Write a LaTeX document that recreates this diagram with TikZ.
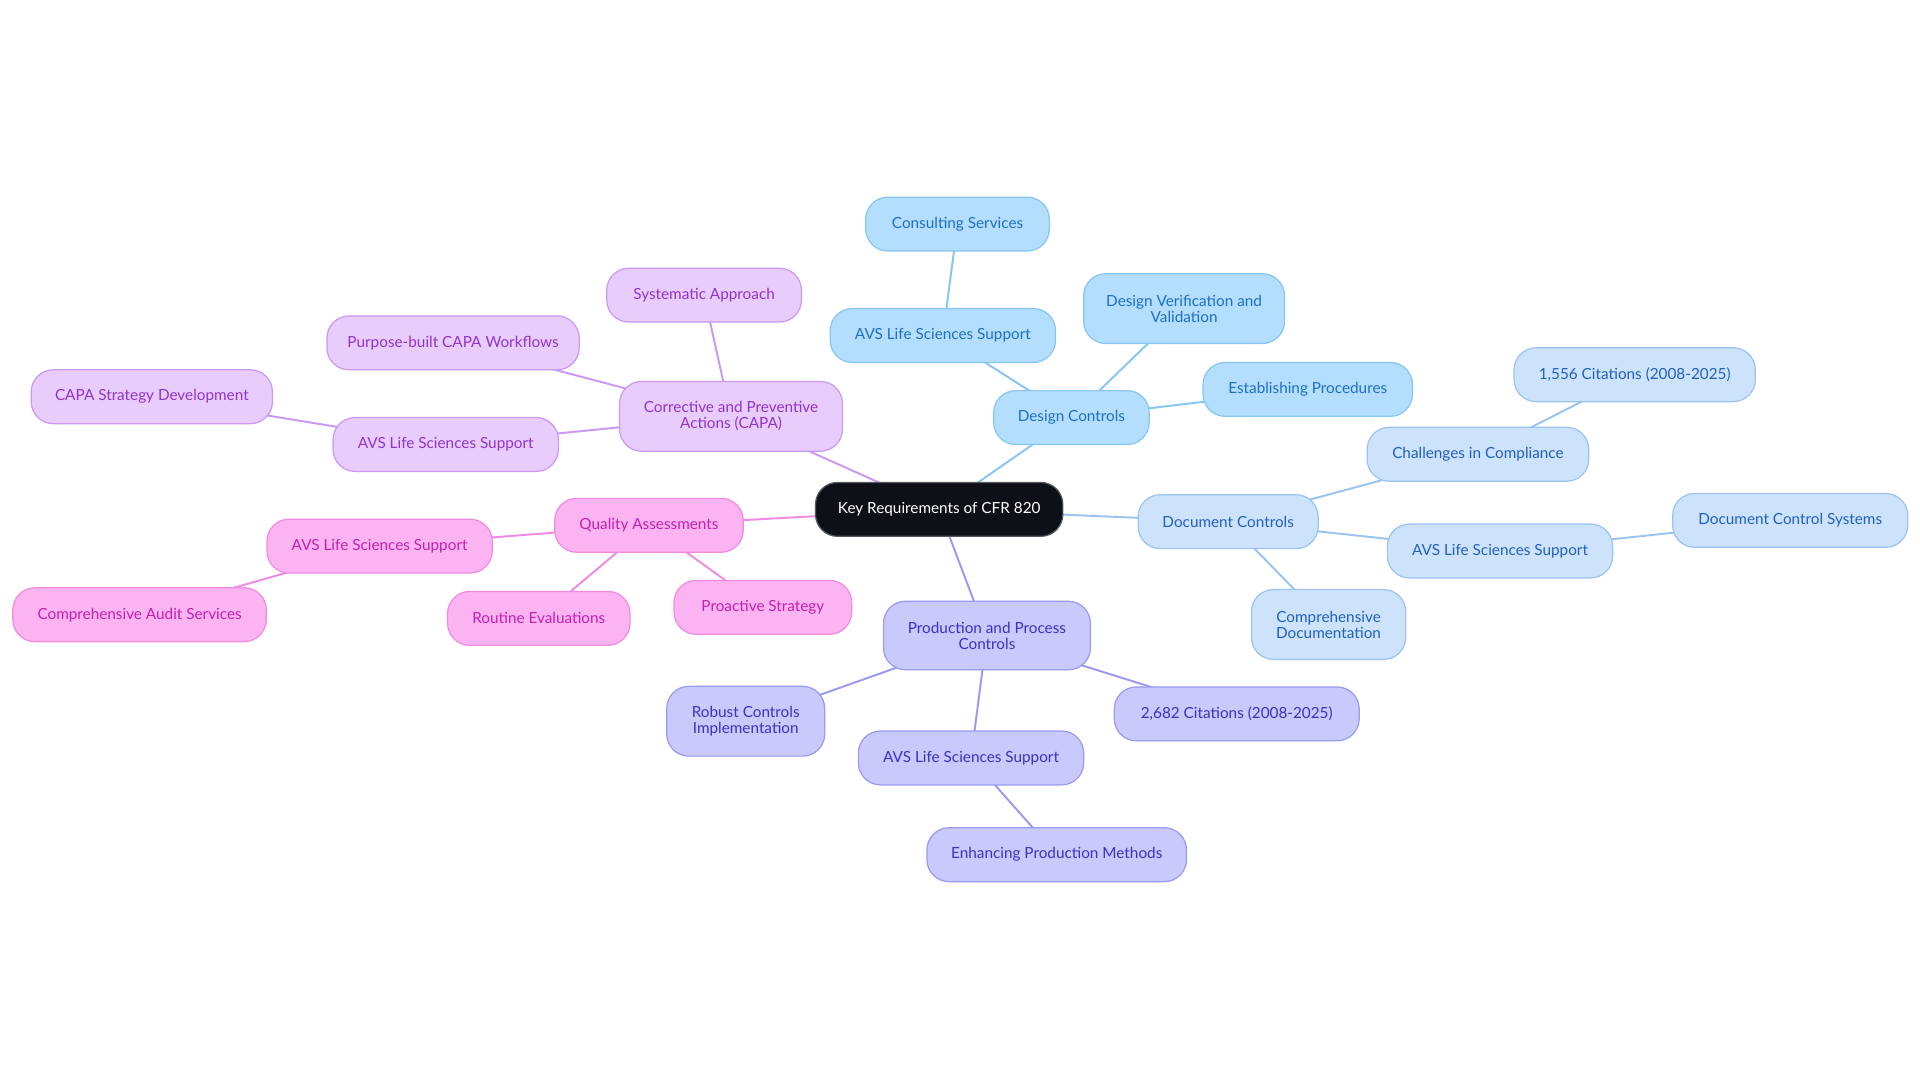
\documentclass[tikz,border=0pt]{standalone}
\usepackage{fontspec}
\setmainfont{Lato}
\usetikzlibrary{backgrounds}
\definecolor{rootF}{HTML}{0D1117}
\definecolor{rootD}{HTML}{555A60}
\definecolor{blueF}{HTML}{B3DEFD}
\definecolor{blueD}{HTML}{88C6F2}
\definecolor{blueT}{HTML}{1F6FC4}
\definecolor{lblueF}{HTML}{CDE3FB}
\definecolor{lblueD}{HTML}{9BC3F2}
\definecolor{lblueT}{HTML}{2260C0}
\definecolor{lavF}{HTML}{C9C9FC}
\definecolor{lavD}{HTML}{9A9AF0}
\definecolor{lavT}{HTML}{3A32C4}
\definecolor{purF}{HTML}{E7CCFC}
\definecolor{purD}{HTML}{CC99F2}
\definecolor{purT}{HTML}{9233CC}
\definecolor{pinkF}{HTML}{FCB3F2}
\definecolor{pinkD}{HTML}{F08CE0}
\definecolor{pinkT}{HTML}{C51FB0}
\tikzset{
  bx/.style 2 args={minimum width=#1pt, minimum height=#2pt},
  base/.style={rounded corners=18pt, inner sep=0pt, align=center, line width=1pt,
    font=\fontsize{12.5}{13}\selectfont},
  rootbox/.style={base, fill=rootF, draw=rootD, text=white},
  bluebox/.style={base, fill=blueF, draw=blueD, text=blueT},
  lbluebox/.style={base, fill=lblueF, draw=lblueD, text=lblueT},
  lavbox/.style={base, fill=lavF, draw=lavD, text=lavT},
  purbox/.style={base, fill=purF, draw=purD, text=purT},
  pinkbox/.style={base, fill=pinkF, draw=pinkD, text=pinkT},
  blueln/.style={draw=blueD, line width=1.6pt},
  lblueln/.style={draw=lblueD, line width=1.6pt},
  lavln/.style={draw=lavD, line width=1.6pt},
  purln/.style={draw=purD, line width=1.6pt},
  pinkln/.style={draw=pinkD, line width=1.6pt},
}
\begin{document}
\begin{tikzpicture}[x=1pt,y=-1pt]
\useasboundingbox (0,0) rectangle (1568,884);
% nodes
\node[rootbox, bx={202}{44}] (root) at (767,416) {Key Requirements of CFR 820};
% design controls
\node[bluebox, bx={127}{44}] (dc) at (875,341) {Design Controls};
\node[bluebox, bx={150}{44}] (cs) at (782,183) {Consulting Services};
\node[bluebox, bx={184}{44}] (dcavs) at (770,274) {AVS Life Sciences Support};
\node[bluebox, bx={164}{57}] (dvv) at (967,252) {Design Verification and\\Validation};
\node[bluebox, bx={171}{44}] (ep) at (1068,318) {Establishing Procedures};
% document controls
\node[lbluebox, bx={147}{44}] (doc) at (1003,426) {Document Controls};
\node[lbluebox, bx={181}{44}] (cic) at (1207,371) {Challenges in Compliance};
\node[lbluebox, bx={197}{44}] (c1556) at (1335,306) {1,556 Citations (2008-2025)};
\node[lbluebox, bx={184}{44}] (docavs) at (1225,450) {AVS Life Sciences Support};
\node[lbluebox, bx={192}{44}] (dcs) at (1462,425) {Document Control Systems};
\node[lbluebox, bx={126}{57}] (cd) at (1085,510) {Comprehensive\\Documentation};
% production
\node[lavbox, bx={169}{56}] (ppc) at (806,519) {Production and Process\\Controls};
\node[lavbox, bx={129}{57}] (rci) at (609,589) {Robust Controls\\Implementation};
\node[lavbox, bx={200}{44}] (c2682) at (1010,583) {2,682 Citations (2008-2025)};
\node[lavbox, bx={184}{44}] (pavs) at (793,619) {AVS Life Sciences Support};
\node[lavbox, bx={212}{44}] (epm) at (863,698) {Enhancing Production Methods};
% capa
\node[purbox, bx={182}{57}] (capa) at (597,340) {Corrective and Preventive\\Actions (CAPA)};
\node[purbox, bx={159}{44}] (sa) at (575,241) {Systematic Approach};
\node[purbox, bx={206}{44}] (pcw) at (370,280) {Purpose-built CAPA Workflows};
\node[purbox, bx={184}{44}] (cavs) at (364,363) {AVS Life Sciences Support};
\node[purbox, bx={197}{44}] (csd) at (124,324) {CAPA Strategy Development};
% quality
\node[pinkbox, bx={154}{44}] (qa) at (530,429) {Quality Assessments};
\node[pinkbox, bx={184}{44}] (qavs) at (310,446) {AVS Life Sciences Support};
\node[pinkbox, bx={207}{44}] (cas) at (114,502) {Comprehensive Audit Services};
\node[pinkbox, bx={149}{44}] (re) at (440,505) {Routine Evaluations};
\node[pinkbox, bx={145}{44}] (ps) at (623,496) {Proactive Strategy};
% edges (behind the boxes, centre to centre)
\begin{pgfonlayer}{background}
\path[blueln] (root.center) -- (dc.center) (dc.center) -- (dcavs.center) (dcavs.center) -- (cs.center) (dc.center) -- (dvv.center) (dc.center) -- (ep.center);
\path[lblueln] (root.center) -- (doc.center) (doc.center) -- (cic.center) (cic.center) -- (c1556.center) (doc.center) -- (docavs.center) (docavs.center) -- (dcs.center) (doc.center) -- (cd.center);
\path[lavln] (root.center) -- (ppc.center) (ppc.center) -- (rci.center) (ppc.center) -- (c2682.center) (ppc.center) -- (pavs.center) (pavs.center) -- (epm.center);
\path[purln] (root.center) -- (capa.center) (capa.center) -- (sa.center) (capa.center) -- (pcw.center) (capa.center) -- (cavs.center) (cavs.center) -- (csd.center);
\path[pinkln] (root.center) -- (qa.center) (qa.center) -- (qavs.center) (qavs.center) -- (cas.center) (qa.center) -- (re.center) (qa.center) -- (ps.center);
\end{pgfonlayer}
\end{tikzpicture}
\end{document}
